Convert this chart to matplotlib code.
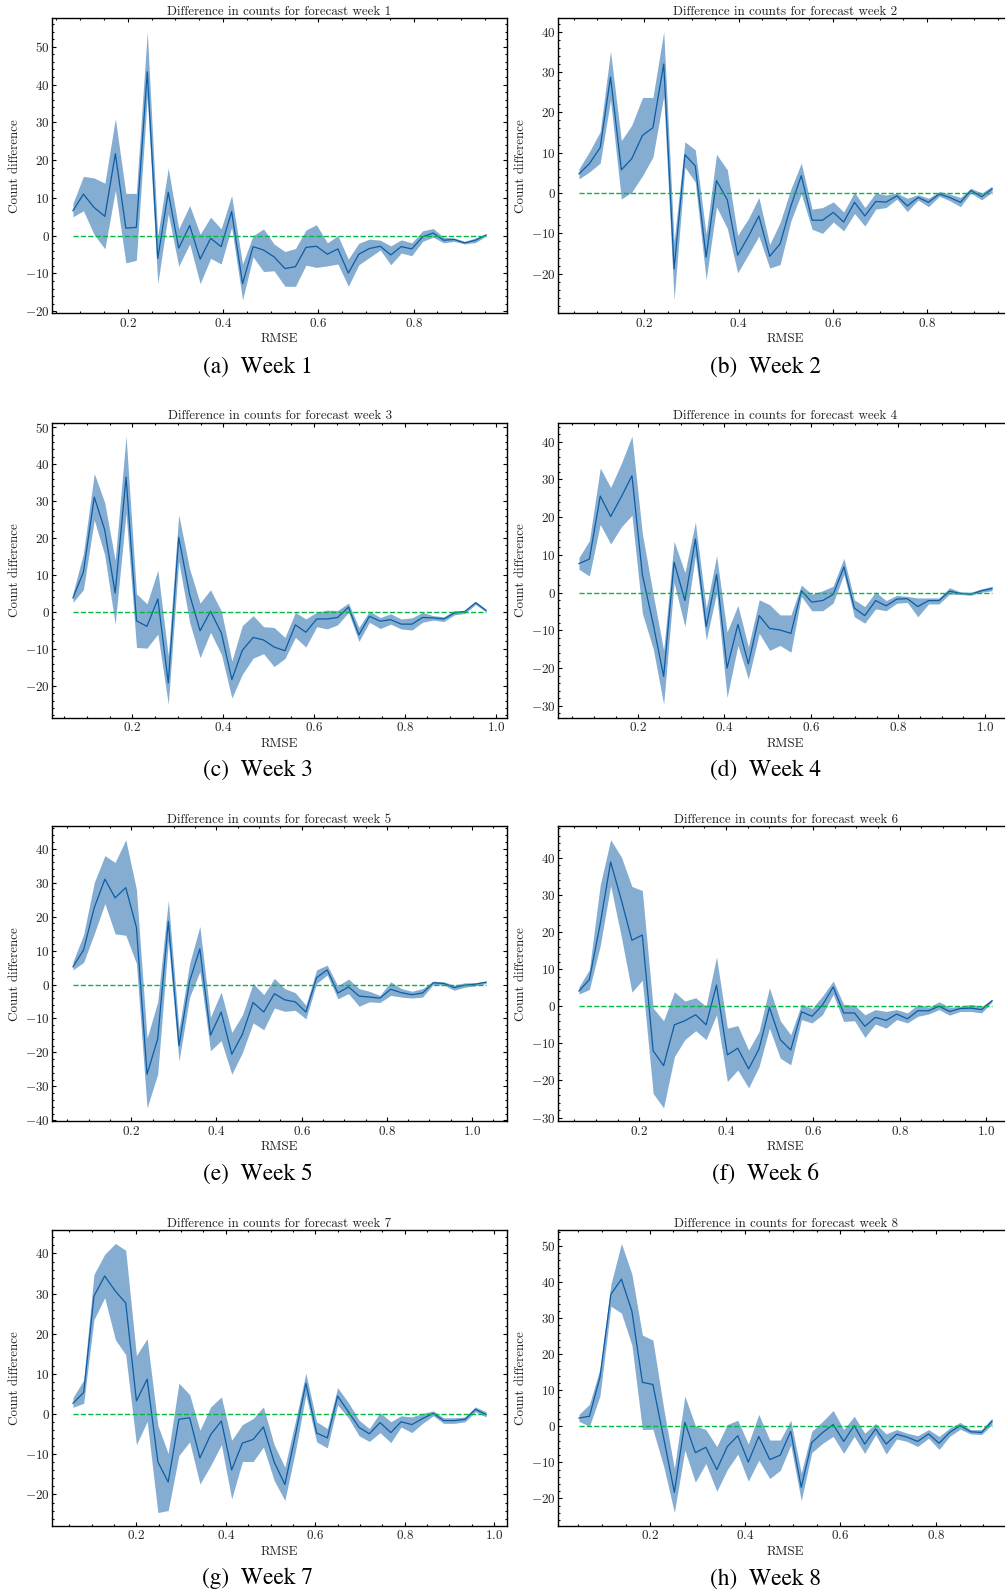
import numpy as np
import matplotlib
matplotlib.use("Agg")
import matplotlib.pyplot as plt
from matplotlib.ticker import MultipleLocator

# ---------------- data ----------------
weeks = [1, 2, 3, 4, 5, 6, 7, 8]
letters = ["a", "b", "c", "d", "e", "f", "g", "h"]

x_w1 = [0.085, 0.107, 0.129, 0.152, 0.174, 0.196, 0.218, 0.241, 0.263, 0.285, 0.307, 0.330, 0.352, 0.374, 0.396, 0.418, 0.441, 0.463, 0.485, 0.507,
        0.530, 0.552, 0.574, 0.596, 0.619, 0.641, 0.663, 0.685, 0.707, 0.730, 0.752, 0.774, 0.796, 0.819, 0.841, 0.863, 0.885, 0.907, 0.930, 0.952]
mean_w1 = [6.6, 11, 7.5, 5.1, 21.7, 2, 2.2, 43.4, -6, 11.5, -3.3, 2.7, -6.2, -0.7, -2.9, 6.4, -12.7, -2.9, -3.8, -5.6,
           -8.7, -8.2, -3.1, -2.8, -4.9, -3.5, -9.9, -4.9, -3.4, -2.8, -5.1, -2.9, -3.5, -0.3, 0.7, -1.2, -1.0, -1.9, -1.2, 0.2]
hi_w1 = [8.6, 15.7, 15.3, 13.9, 31, 11.2, 11.2, 54, 0, 17.9, 1.8, 8, 0.4, 4.9, 1.8, 10.6, -7.5, 0, 1.8, -2.2,
         -4.2, -3.4, 1.5, 2.9, -1.9, 0, -6.2, -2, -0.9, -1.2, -2.7, -1.1, -1.9, 1.3, 1.9, -0.4, -0.6, -1.5, -0.6, 0.4]
lo_w1 = [5, 6.6, 0.4, -3.5, 12, -7.2, -6.5, 36.7, -12.7, 5.8, -8.1, -2.2, -12.7, -6, -7.5, 2.2, -17, -5.6, -9.5, -9.3,
         -13.4, -13.4, -7.8, -8.4, -8, -7.5, -13.4, -7.7, -5.8, -3.8, -7.7, -4.6, -5.3, -1.5, -0.4, -1.9, -1.5, -2.2, -1.8, -0.1]

x_w2 = [0.061, 0.083, 0.106, 0.128, 0.151, 0.173, 0.196, 0.218, 0.241, 0.263, 0.286, 0.308, 0.331, 0.353, 0.376, 0.398, 0.421, 0.443, 0.466, 0.488,
        0.511, 0.533, 0.556, 0.578, 0.601, 0.623, 0.646, 0.668, 0.691, 0.713, 0.736, 0.758, 0.781, 0.803, 0.826, 0.848, 0.871, 0.893, 0.916, 0.938]
mean_w2 = [4.75, 7.25, 11.25, 28.75, 5.75, 8.5, 14.3, 16.2, 32, -18.8, 9.5, 6.7, -15.9, 3.1, -1.7, -15.4, -10.7, -5.7, -15.7, -12.6,
           -3.2, 4.3, -6.75, -6.75, -4.8, -7.2, -2.3, -5.7, -2.1, -2.25, -0.7, -3.2, -1.1, -2.3, -0.25, -1.1, -2.3, 0.6, -0.9, 1.0]
hi_w2 = [6, 10.2, 15.2, 35.2, 13, 16.8, 23.7, 23.7, 40, -12, 12.7, 10.7, -10.2, 9.6, 5.75, -10.5, -6.3, -1.1, -12.75, -7.3,
         1, 7.4, -4, -3.6, -2.2, -4.7, 0.2, -3.6, 0, -0.5, 0, -1.3, -0.4, -1.3, 0.4, -0.25, -1.1, 1.2, 0, 1.7]
lo_w2 = [3.5, 5.2, 7.4, 23, -1.5, 0.2, 4.3, 8.9, 24, -26.5, 6.4, 2.7, -21.5, -3.4, -8.8, -19.8, -15.2, -10.7, -18.6, -17.75,
         -6.9, -0.25, -9, -10, -7.2, -9.4, -5.1, -8.2, -4, -3.6, -1.5, -4.6, -1.75, -3.4, -0.8, -1.9, -3.4, 0, -1.7, 0.2]

x_w3 = [0.069, 0.092, 0.116, 0.139, 0.162, 0.186, 0.209, 0.232, 0.256, 0.279, 0.302, 0.326, 0.349, 0.372, 0.396, 0.419, 0.442, 0.466, 0.489, 0.512,
        0.536, 0.559, 0.582, 0.606, 0.629, 0.652, 0.676, 0.699, 0.722, 0.746, 0.769, 0.792, 0.816, 0.839, 0.862, 0.886, 0.909, 0.932, 0.956, 0.979]
mean_w3 = [3.8, 10.8, 31.1, 22.2, 5.1, 36.5, -2.4, -3.9, 3.5, -19.2, 20.2, 4.7, -5.1, 0.2, -5.7, -18.3, -10.4, -6.9, -7.6, -9.5,
           -10.5, -3.5, -5.5, -1.9, -1.9, -1.5, 1.3, -6.2, -1.2, -2.5, -2.1, -3.3, -3.3, -1.5, -1.6, -1.9, -0.3, 0.1, 2.5, 0.4]
hi_w3 = [5.1, 15.8, 37.5, 29.6, 14, 47.6, 4.9, 2.2, 11.3, -11.9, 26.3, 11.7, 2.4, 6, 0.2, -13.3, -3.7, -1, -4, -4.2,
         -6.9, -0.1, -1.9, -0.1, 0.5, 0.4, 2.4, -4.2, 0.2, -1.5, -0.5, -1.9, -1.6, -0.1, -1, -1.3, 0.4, 0.4, 2.9, 0.7]
lo_w3 = [2.6, 6, 24.9, 15.4, -3.3, 26.7, -9.6, -9.8, -6, -25, 13.7, -2.8, -12.4, -5.5, -11.5, -23.3, -16.9, -12.5, -11.3, -14.8,
         -12.6, -6.9, -9.5, -4, -4.6, -3.5, -0.1, -8, -2.8, -4.5, -3.3, -4.6, -4.9, -2.8, -2.2, -2.6, -0.8, -0.4, 2, 0]

x_w4 = [0.065, 0.089, 0.114, 0.138, 0.163, 0.187, 0.211, 0.236, 0.260, 0.284, 0.309, 0.333, 0.358, 0.382, 0.406, 0.431, 0.455, 0.480, 0.504, 0.528,
        0.553, 0.577, 0.601, 0.626, 0.650, 0.675, 0.699, 0.723, 0.748, 0.772, 0.797, 0.821, 0.845, 0.870, 0.894, 0.918, 0.943, 0.967, 0.992, 1.016]
mean_w4 = [7.7, 8.9, 25.6, 20.2, 25.5, 31, 4.8, -8.4, -22.2, 8.1, -2.1, 14.2, -9, 4.8, -20, -8.4, -18.9, -6.1, -9.5, -9.9,
           -10.8, 0.5, -2.5, -2.1, -0.5, 6.8, -4.1, -6.1, -2.1, -3.5, -1.7, -1.6, -3.7, -2.1, -2.1, 0.4, -0.2, -0.4, 0.5, 1.1]
hi_w4 = [9.3, 13.8, 33, 27.9, 34.4, 41.5, 15.6, -0.5, -15.3, 13.6, 5.3, 18.7, -4.1, 9.8, -10.4, -3.4, -14.4, -1.9, -3.2, -5.9,
         -5.9, 2, -0.4, 0.5, 1.7, 9.1, -1.9, -3.7, 0.2, -2.1, -0.7, -1, -1.4, -1.4, -1.4, 1.3, 0.2, 0.1, 1, 1.7]
lo_w4 = [6.2, 4.4, 18.1, 12.9, 17.5, 20.5, -5.5, -14.9, -29.6, 2.6, -9, 9.8, -12.6, -0.1, -27.8, -14, -22.9, -10.8, -15.3, -14,
         -15.8, -1, -4.8, -4.8, -2.8, 4.8, -6.4, -8.1, -4.3, -4.8, -2.8, -2.6, -6.4, -3, -3, -0.4, -0.5, -0.7, 0.1, 0.5]

x_w5 = [0.063, 0.088, 0.113, 0.138, 0.162, 0.187, 0.212, 0.237, 0.262, 0.287, 0.312, 0.337, 0.361, 0.386, 0.411, 0.436, 0.461, 0.486, 0.511, 0.536,
        0.560, 0.585, 0.610, 0.635, 0.660, 0.685, 0.710, 0.735, 0.759, 0.784, 0.809, 0.834, 0.859, 0.884, 0.909, 0.934, 0.958, 0.983, 1.008, 1.033]
mean_w5 = [5.2, 10.2, 22.6, 31, 25.5, 28.5, 16.8, -26.4, -16, 18.6, -18, 1, 10.5, -14.9, -8.1, -20.5, -14.6, -5.3, -8.1, -2.7,
           -4.5, -5.1, -8.1, 2, 4.3, -2.5, -0.7, -3.4, -3.7, -4, -1.4, -2.4, -3, -2.5, 0.5, 0.3, -0.9, -0.2, 0.1, 0.7]
hi_w5 = [6.7, 14.7, 30, 37.9, 35.9, 42.6, 28, -15.8, -5.1, 24.8, -13.1, 6.2, 17.1, -9.6, -2.2, -14.1, -8.9, 0.3, -3, 1.8,
         -1.2, -2.4, -6.1, 4.3, 5.7, -0.4, 1.6, -1.2, -2, -3.2, 0.8, -1.2, -2, -1.2, 1, 0.8, -0.2, 0.5, 0.5, 1]
lo_w5 = [4.3, 6.5, 14.9, 23.8, 14.9, 14.5, 6.2, -36.3, -26.4, 12.7, -22.5, -3.7, 3.8, -19.5, -16.5, -26.4, -20, -11.3, -13.3, -6.9,
         -7.9, -7.6, -10.1, 0.3, 2.8, -4.2, -2.7, -6.4, -5.1, -5.3, -3.2, -3.7, -4, -3.7, 0, -0.2, -1.7, -0.8, -0.4, 0.3]

x_w6 = [0.061, 0.085, 0.110, 0.134, 0.159, 0.183, 0.207, 0.232, 0.256, 0.281, 0.305, 0.330, 0.354, 0.378, 0.403, 0.427, 0.452, 0.476, 0.500, 0.525,
        0.549, 0.574, 0.598, 0.622, 0.647, 0.671, 0.696, 0.720, 0.744, 0.769, 0.793, 0.818, 0.842, 0.867, 0.891, 0.915, 0.940, 0.964, 0.989, 1.013]
mean_w6 = [4.1, 7.2, 22.2, 38.9, 28.5, 17.8, 19.2, -12, -16, -5, -3.9, -2.3, -5, 5.7, -13.1, -11.3, -16.9, -11.5, -0.3, -9,
           -11.8, -1.5, -2.7, 0.3, 5.2, -1.8, -1.8, -5.4, -3, -3.8, -2.1, -3.4, -1.2, -1.2, 0, -1.4, -0.6, -0.5, -0.9, 1.5]
hi_w6 = [5.2, 9.9, 32.7, 44.9, 40.2, 32.3, 31.2, -0.5, -3.9, 3.9, 1.4, 2.3, 0, 13.3, -5.9, -5.2, -11.8, -6.8, 5, -3.9,
         -7.7, 0.6, -0.6, 2.7, 6.8, 0.5, 0.3, -2.3, -0.9, -1.4, -0.9, -1.8, 0.5, -0.3, 1.2, -0.3, 0, 0.5, 0, 1.8]
lo_w6 = [3.3, 4.5, 16.3, 32.5, 18.5, 3.8, 7, -23.5, -27.4, -13.6, -9, -6.6, -9, -2.3, -20.3, -17.2, -22, -16.3, -5.9, -14,
         -15.8, -3.6, -4.5, -2.3, 3.2, -4.1, -3.9, -8.4, -4.8, -5.9, -3.6, -4.5, -2.7, -2.1, -0.9, -2.4, -1.4, -1.4, -1.8, 1.2]

x_w7 = [0.058, 0.082, 0.105, 0.129, 0.153, 0.176, 0.200, 0.224, 0.248, 0.271, 0.295, 0.319, 0.342, 0.366, 0.390, 0.413, 0.437, 0.461, 0.484, 0.508,
        0.532, 0.556, 0.579, 0.603, 0.627, 0.650, 0.674, 0.698, 0.721, 0.745, 0.769, 0.792, 0.816, 0.840, 0.864, 0.887, 0.911, 0.935, 0.958, 0.982]
mean_w7 = [2.7, 5.4, 29.4, 34.4, 30.6, 27.7, 3.3, 8.7, -11.9, -16.9, -1.3, -0.9, -10.9, -5.1, -1.7, -13.9, -7.2, -6.3, -3.2, -11.9,
           -17.5, -5, 7.7, -4.7, -5.9, 4.5, 0.6, -3.3, -4.9, -2.1, -4.6, -1.9, -2.6, -1.1, 0.2, -1.6, -1.6, -1.3, 1.2, -0.1]
hi_w7 = [4.1, 8.5, 34.8, 39.8, 42.5, 40.8, 14.6, 18.8, -2.8, -9.8, 7.7, 4.9, -4, 1.8, 4.3, -6.5, -2.6, -1.1, 1.8, -7.6,
         -13.2, -1.5, 10.2, -1.9, -3.6, 6.6, 2.9, -1.5, -3.6, 0.4, -1.9, -0.4, -0.7, 0.2, 0.8, -0.9, -0.9, -0.7, 1.8, 0.6]
lo_w7 = [1.7, 2.7, 23.5, 29, 18.5, 14.8, -7.6, -1.8, -24.5, -24, -10.3, -6.9, -17.4, -12.8, -7.6, -21.1, -11.8, -11.8, -8.2, -16.5,
         -21.5, -9, 4.8, -6.9, -8.4, 2.3, -0.9, -5.4, -6.8, -4.6, -7.1, -3.2, -4.6, -2.3, -0.4, -2.3, -2.3, -1.9, 0.6, -0.7]

x_w8 = [0.052, 0.074, 0.096, 0.119, 0.141, 0.163, 0.185, 0.207, 0.230, 0.252, 0.274, 0.296, 0.318, 0.341, 0.363, 0.385, 0.407, 0.429, 0.452, 0.474,
        0.496, 0.518, 0.540, 0.563, 0.585, 0.607, 0.629, 0.651, 0.674, 0.696, 0.718, 0.740, 0.762, 0.785, 0.807, 0.829, 0.851, 0.873, 0.896, 0.918]
mean_w8 = [2.3, 2.8, 13.6, 36.6, 40.8, 31.9, 12.2, 11.6, -3.5, -18.3, 1.1, -7.3, -5.8, -12, -5.6, -2.6, -9.9, -2.8, -9.2, -8,
           -1.4, -16.9, -4.5, -1.7, 0.5, -4.2, 0.2, -4.9, -0.7, -4.9, -2.2, -3, -4.2, -2.1, -4.7, -1.7, 0.2, -1.5, -1.7, 1.4]
hi_w8 = [3.3, 6.1, 15.9, 39.4, 50.7, 42.2, 25.3, 23.9, 4.7, -11.7, 8.4, 0.2, -0.9, -5.6, 0.5, 1.7, -4.9, 3.3, -3.8, -3.8,
         1.7, -12.9, -1.4, 1.4, 4.4, -0.9, 2.8, -1.9, 0.8, -2.1, -0.9, -1.9, -2.6, -0.9, -2.8, -0.5, 1.1, -0.9, -0.9, 2.3]
lo_w8 = [1.4, 0, 8.4, 33.3, 31.4, 22.5, -0.9, -0.8, -11.3, -23.9, -6.6, -15.5, -10.3, -18, -12, -7.7, -15.2, -9.4, -14.5, -12.2,
         -5.2, -20.6, -7.3, -4.7, -2.8, -7.5, -2.8, -7.5, -2.3, -7.7, -3.5, -4.2, -5.6, -3.3, -6.4, -2.8, -0.8, -2.1, -2.3, 0.5]

xs = [x_w1, x_w2, x_w3, x_w4, x_w5, x_w6, x_w7, x_w8]
means = [mean_w1, mean_w2, mean_w3, mean_w4, mean_w5, mean_w6, mean_w7, mean_w8]
his = [hi_w1, hi_w2, hi_w3, hi_w4, hi_w5, hi_w6, hi_w7, hi_w8]
los = [lo_w1, lo_w2, lo_w3, lo_w4, lo_w5, lo_w6, lo_w7, lo_w8]

# ---------------- style ----------------
plt.rcParams.update({
    "font.family": "cmr10",
    "mathtext.fontset": "cm",
    "axes.formatter.use_mathtext": True,
    "font.size": 9.4,
    "axes.titlesize": 9.4,
    "axes.labelsize": 9.4,
    "xtick.labelsize": 9.4,
    "ytick.labelsize": 9.4,
    "xtick.direction": "in",
    "ytick.direction": "in",
    "xtick.top": True,
    "ytick.right": True,
    "xtick.major.size": 3,
    "ytick.major.size": 3,
    "xtick.minor.size": 1.5,
    "ytick.minor.size": 1.5,
    "xtick.major.width": 0.8,
    "ytick.major.width": 0.8,
    "xtick.minor.width": 0.8,
    "ytick.minor.width": 0.8,
    "xtick.major.pad": 2.5,
    "ytick.major.pad": 1.8,
    "axes.linewidth": 1.0,
    "text.color": "#222222",
    "xtick.labelcolor": "#222222",
    "ytick.labelcolor": "#222222",
    "axes.labelcolor": "#222222",
})

W, H = 1005, 1596
fig = plt.figure(figsize=(W / 100, H / 100), dpi=100)

col_left = [52.3, 558.3]
ax_w = 454.4
row_top = [18.3, 422.7, 826.3, 1230.0]
row_bot = [313.3, 717.7, 1121.3, 1526.0]
cap_x = [258, 765]
cap_y = [366.7, 770.5, 1173.6, 1578.7]

blue = "#0C5DA5"
green = "#00B945"

for k in range(8):
    r, c = divmod(k, 2)
    left = col_left[c] / W
    bottom = 1 - row_bot[r] / H
    ax = fig.add_axes([left, bottom, ax_w / W, (row_bot[r] - row_top[r]) / H])
    x = np.array(xs[k])
    ax.fill_between(x, los[k], his[k], color=blue, alpha=0.5, linewidth=0)
    ax.plot(x, means[k], color=blue, lw=0.9)
    ax.plot([x[0], x[-1]], [0, 0], color=green, lw=1.0, ls="--")
    ax.xaxis.set_major_locator(MultipleLocator(0.2))
    ax.xaxis.set_minor_locator(MultipleLocator(0.05))
    ax.yaxis.set_major_locator(MultipleLocator(10))
    ax.yaxis.set_minor_locator(MultipleLocator(2))
    ax.set_title(f"Difference in counts for forecast week {weeks[k]}", pad=2.5)
    ax.set_xlabel("RMSE", labelpad=2.5)
    ax.set_ylabel("Count difference", labelpad=3)
    fig.text(cap_x[c] / W, 1 - cap_y[r] / H, f"({letters[k]})  Week {weeks[k]}",
             ha="center", va="center", family="STIXGeneral", fontsize=16.8, color="black")

fig.savefig("out.png", dpi=100)
